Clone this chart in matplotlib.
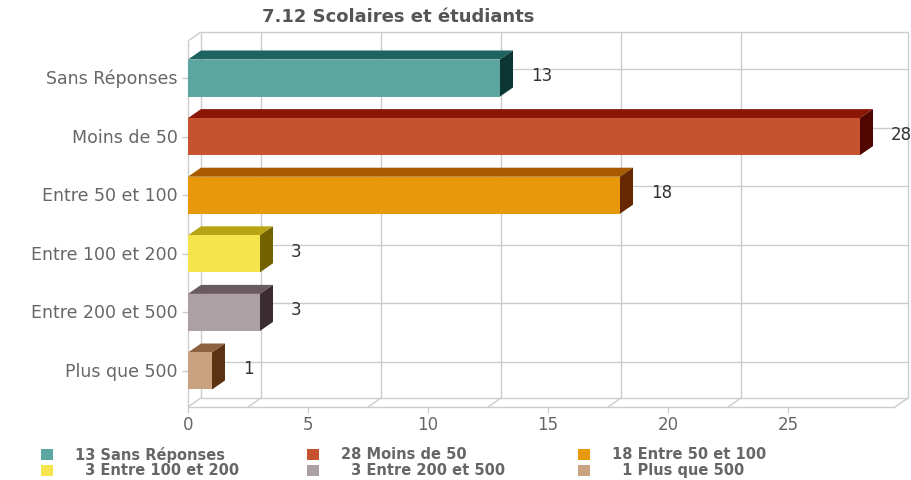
import matplotlib
matplotlib.use("Agg")
import matplotlib.pyplot as plt
from matplotlib.patches import Polygon, Rectangle
import numpy as np

title = "7.12 Scolaires et étudiants"
categories = ["Sans Réponses", "Moins de 50", "Entre 50 et 100",
              "Entre 100 et 200", "Entre 200 et 500", "Plus que 500"]
values = [13, 28, 18, 3, 3, 1]
front_colors = ["#5ca6a2", "#c5532f", "#e8990b", "#f5e54c", "#ada0a5", "#c9a27f"]
top_colors = ["#1d6361", "#8a1606", "#a85a00", "#b8a414", "#6a5b60", "#8c6240"]
side_colors = ["#0c3634", "#520600", "#662800", "#726200", "#3a2c31", "#5a3412"]
xticks = [0, 5, 10, 15, 20, 25]
grid_x = [2.5, 7.5, 12.5, 17.5, 22.5]

W, H = 912, 481
fig = plt.figure(figsize=(W / 100, H / 100), dpi=100)
fig.patch.set_facecolor("white")

# front plot area in pixels
L, R, T, B = 188, 895, 42, 408
ax = fig.add_axes([L / W, 1 - B / H, (R - L) / W, (B - T) / H])
px_per_x = 24.0
px_per_cat = 58.6
first_center = 79
xmax = (R - L) / px_per_x
ytop = (T - first_center) / px_per_cat
ybot = (B - first_center) / px_per_cat
ax.set_xlim(0, xmax)
ax.set_ylim(ybot, ytop)
ax.axis("off")

dx = 13 / px_per_x          # depth offset (x units)
dy = -9 / px_per_cat        # depth offset (category units, upward)
grid_c = "#cccccc"
lw = 1.0

def line(xs, ys, **kw):
    ax.plot(xs, ys, color=kw.pop("color", grid_c), lw=kw.pop("lw", lw),
            clip_on=False, solid_capstyle="butt", zorder=0.5, **kw)

# back wall box
bx0, bx1 = dx, xmax + dx
by0, by1 = ytop + dy, ybot + dy
line([bx0, bx1], [by0, by0])
line([bx0, bx0], [by0, by1])
line([bx1, bx1], [by0, by1])
line([bx0, bx1], [by1, by1])
# left wall / floor edges
line([0, 0], [ytop, ybot])
line([0, bx0], [ytop, by0])
line([0, xmax], [ybot, ybot])
line([0, bx0], [ybot, by1])
line([xmax, bx1], [ybot, by1])
# vertical grid on back wall + floor
for gx in grid_x:
    line([gx + dx, gx + dx], [by0, by1])
    line([gx, gx + dx], [ybot, by1])
# horizontal grid at categories on back wall
for i in range(len(categories)):
    line([bx0, bx1], [i + dy, i + dy])
    line([-6 / px_per_x, 0], [i, i])

# x ticks
for t in xticks:
    line([t, t], [ybot, ybot + 6 / px_per_cat])
    ax.text(t, ybot + 8 / px_per_cat, str(t), ha="center", va="top",
            fontsize=12, color="#666666", clip_on=False)

# bars
h = 37 / px_per_cat
for i, (v, fc, tc, sc) in enumerate(zip(values, front_colors, top_colors, side_colors)):
    y0, y1 = i - h / 2, i + h / 2
    ax.add_patch(Polygon([(0, y0), (v, y0), (v + dx, y0 + dy), (dx, y0 + dy)],
                         closed=True, facecolor=tc, edgecolor="none", clip_on=False, zorder=2))
    ax.add_patch(Polygon([(v, y0), (v + dx, y0 + dy), (v + dx, y1 + dy), (v, y1)],
                         closed=True, facecolor=sc, edgecolor="none", clip_on=False, zorder=2))
    ax.add_patch(Rectangle((0, y0), v, h, facecolor=fc, edgecolor="none",
                           clip_on=False, zorder=2))
    ax.text(v + dx + 18 / px_per_x, i - 3 / px_per_cat, str(v), ha="left", va="center",
            fontsize=12, color="#333333", clip_on=False)
    ax.text(-10 / px_per_x, i, categories[i], ha="right", va="center",
            fontsize=12.5, color="#666666", clip_on=False)

fig.text(398 / W, 1 - 17 / H, title, ha="center", va="center", fontsize=13,
         fontweight="bold", color="#555555")

# legend
col_marker_x = [47, 313, 584]
row_y = [455, 471]
for i, (c, v, fc) in enumerate(zip(categories, values, front_colors)):
    r, col = divmod(i, 3)
    mx, my = col_marker_x[col], row_y[r]
    fig.patches.append(Rectangle(((mx - 6) / W, 1 - (my + 6) / H), 12 / W, 11 / H,
                                 transform=fig.transFigure, facecolor=fc,
                                 edgecolor="none"))
    num = f"{v}" if v >= 10 else "\u2007" + f"{v}"
    fig.text((mx + 28) / W, 1 - my / H, f"{num} {c}", ha="left", va="center",
             fontsize=10.5, fontweight="bold", color="#666666")

fig.savefig("out.png", dpi=100, facecolor="white")
